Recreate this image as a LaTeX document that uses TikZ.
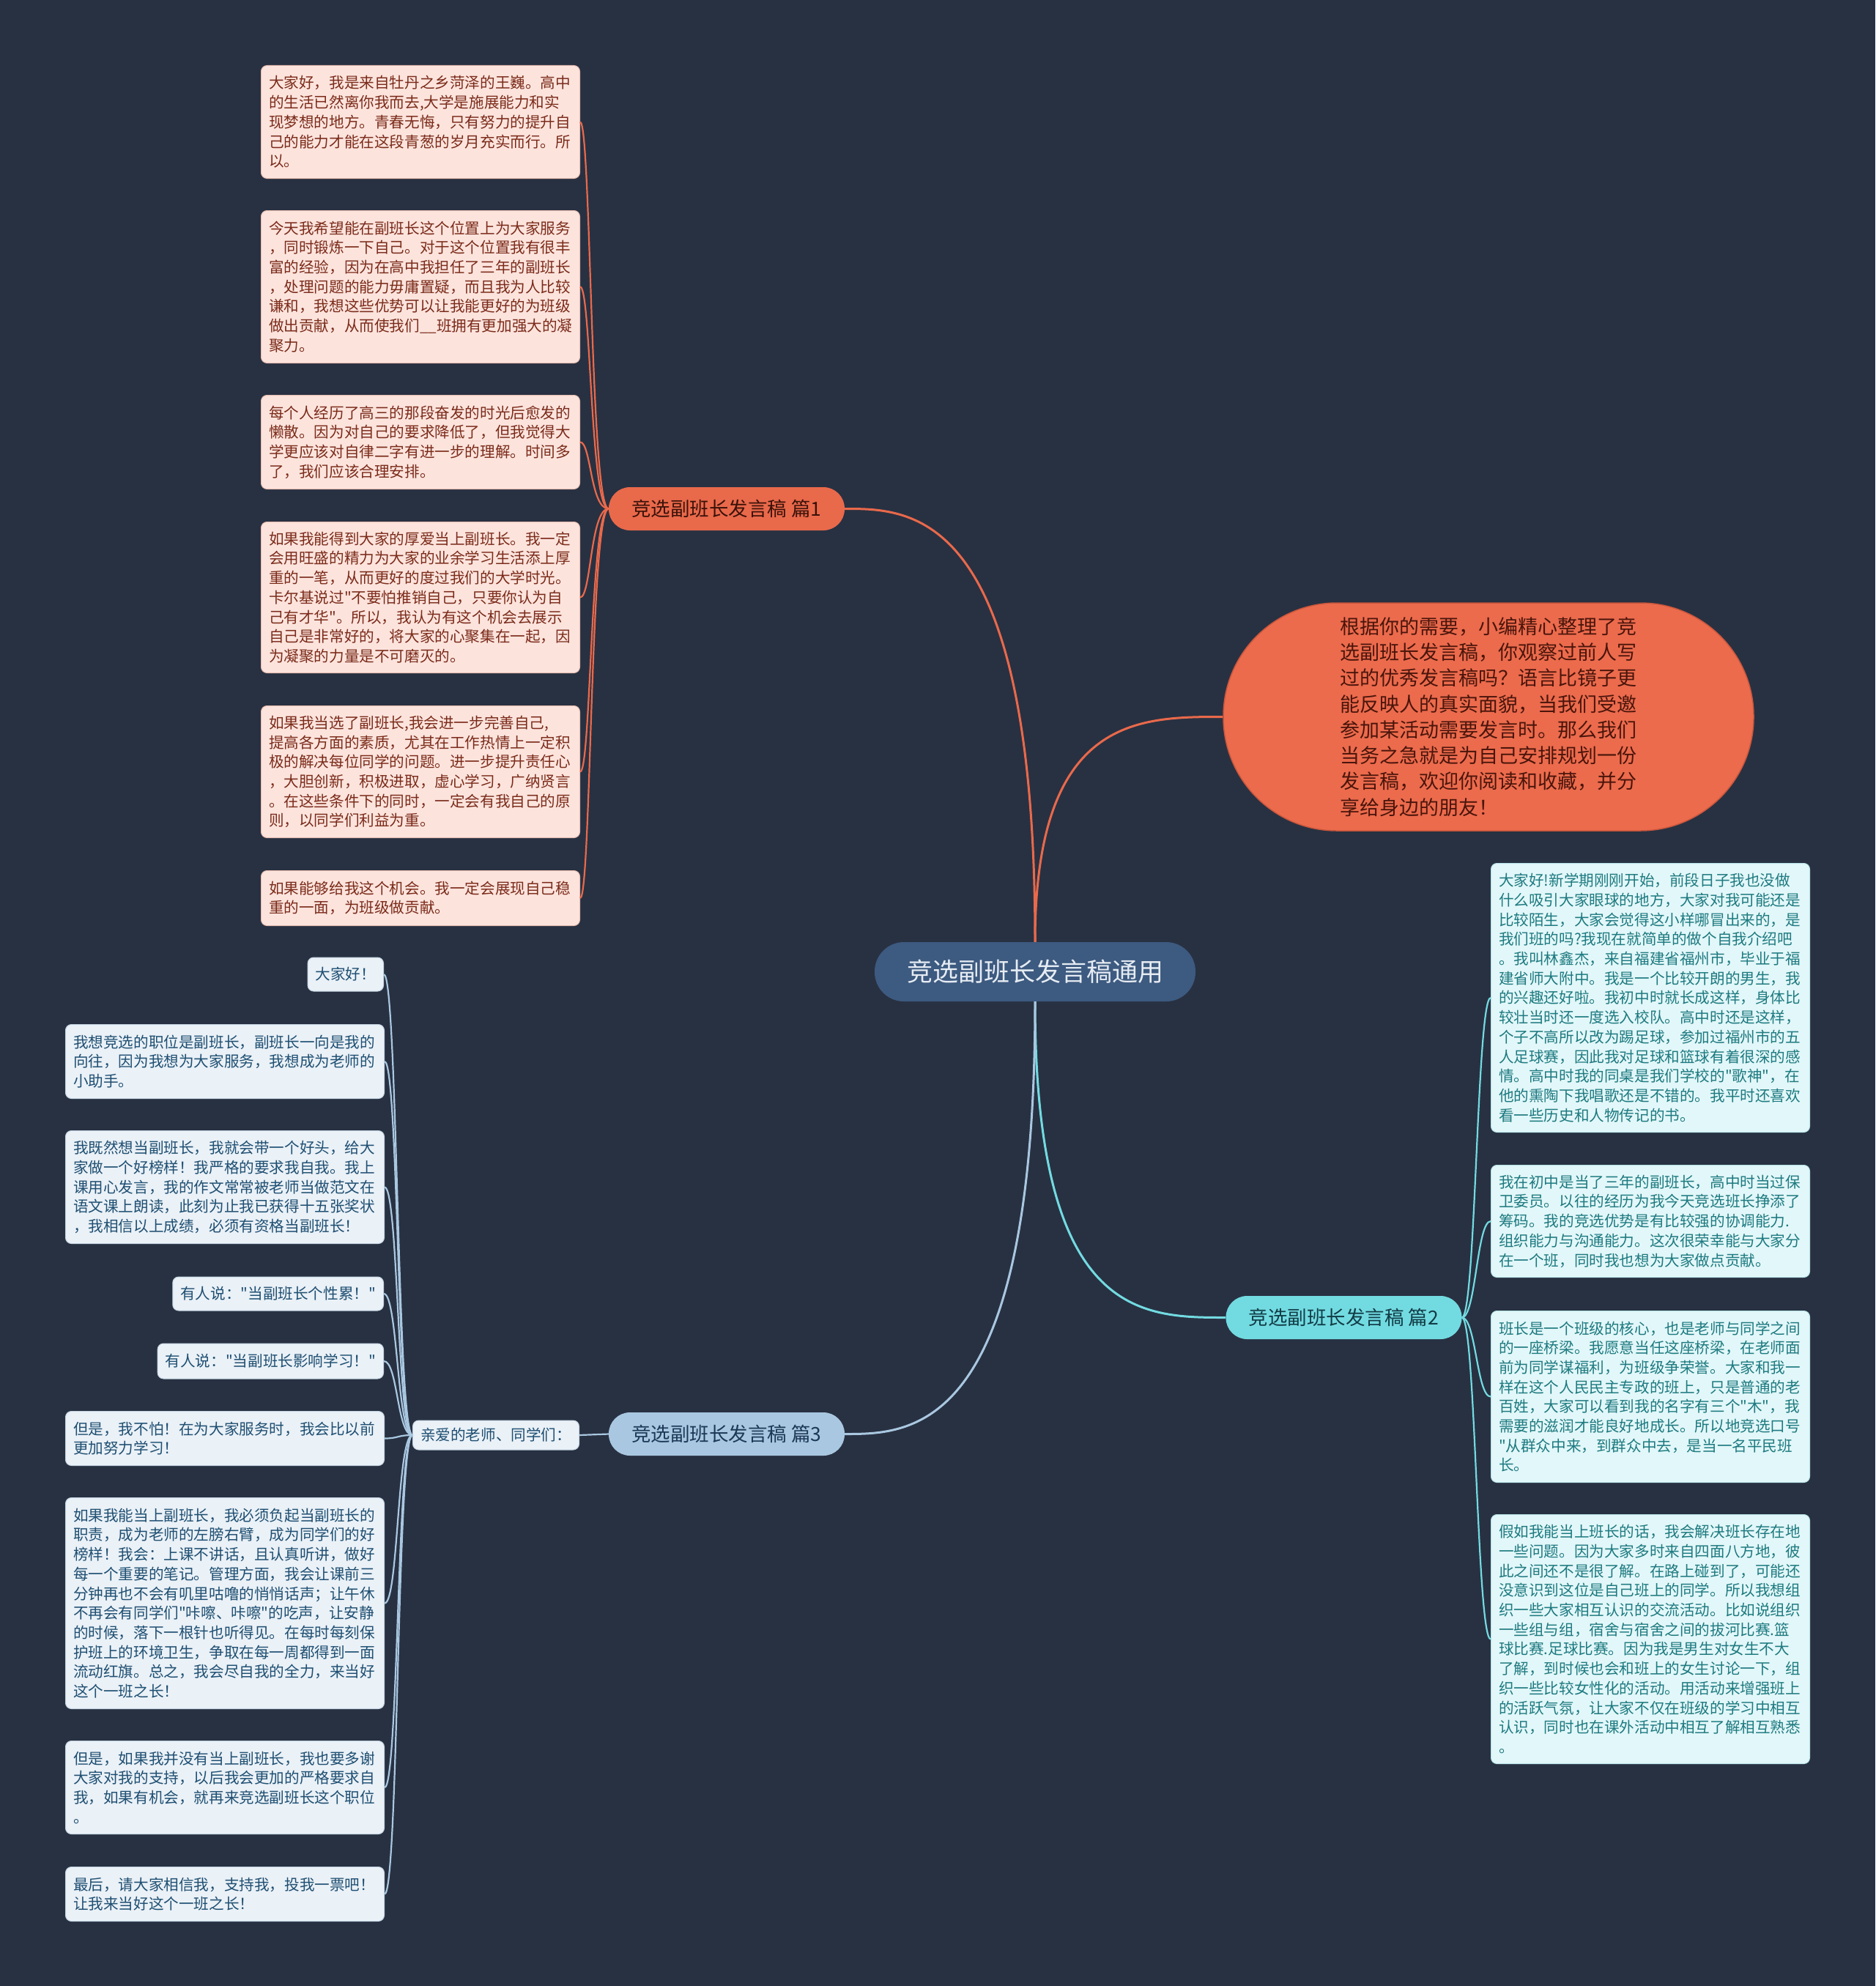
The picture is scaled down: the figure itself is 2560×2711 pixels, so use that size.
\documentclass[tikz,border=0pt]{standalone}
\usepackage{fontspec}
\setmainfont{Noto Sans CJK SC}[Ligatures=TeXOff]
\definecolor{bgc}{HTML}{283142}
\definecolor{rootF}{HTML}{3D5A80}
\definecolor{rootT}{HTML}{E6ECF3}
\definecolor{orgF}{HTML}{E9694B}
\definecolor{orgT}{HTML}{3B1209}
\definecolor{introF}{HTML}{EC6B4D}
\definecolor{introD}{HTML}{C9563C}
\definecolor{introT}{HTML}{4A150B}
\definecolor{pinkF}{HTML}{FCE4DD}
\definecolor{pinkD}{HTML}{E7BDB0}
\definecolor{pinkT}{HTML}{7B2B1A}
\definecolor{cyanF}{HTML}{72DBE1}
\definecolor{cyanT}{HTML}{123C46}
\definecolor{cyanLF}{HTML}{E2F7F9}
\definecolor{cyanLD}{HTML}{B8E3E8}
\definecolor{cyanLT}{HTML}{1D7A80}
\definecolor{blueF}{HTML}{A9C7E0}
\definecolor{blueT}{HTML}{1C3856}
\definecolor{blueLF}{HTML}{EAF1F7}
\definecolor{blueLD}{HTML}{C4D4E2}
\definecolor{blueLT}{HTML}{1F4F72}
\tikzset{
  rootn/.style={fill=rootF, text=rootT, rounded corners=40pt, minimum width=438pt, minimum height=81pt, inner sep=0pt, font=\fontsize{35}{40}\selectfont},
  branchn/.style={rounded corners=29pt, minimum width=322pt, minimum height=59pt, inner sep=0pt, font=\fontsize{26.5}{30}\selectfont},
  introbox/.style={fill=introF, draw=introD, line width=1.5pt, text=introT, rounded corners=155pt, minimum width=724pt, minimum height=311pt, text width=406pt, align=left, inner sep=0pt, font=\fontsize{27}{35.3}\selectfont},
  leafbase/.style={line width=1pt, rounded corners=8pt, align=left, inner xsep=10.5pt, inner ysep=3pt, font=\fontsize{20.6}{26.7}\selectfont},
  leafwide/.style={leafbase, text width=414pt, anchor=north west},
  leafP/.style={fill=pinkF, draw=pinkD, text=pinkT},
  leafC/.style={fill=cyanLF, draw=cyanLD, text=cyanLT},
  leafB/.style={fill=blueLF, draw=blueLD, text=blueLT},
  leafshort/.style={leafbase, leafB, anchor=east},
  conO/.style={draw=orgF, line width=3pt},
  conOs/.style={draw=orgF, line width=2.2pt},
  conC/.style={draw=cyanF, line width=3pt},
  conCs/.style={draw=cyanF, line width=2.2pt},
  conB/.style={draw=blueF, line width=3pt},
  conBs/.style={draw=blueF, line width=2.2pt},
}
\begin{document}
\begin{tikzpicture}[x=1pt,y=-1pt]
\fill[bgc] (0,0) rectangle (2560,2711);
\useasboundingbox (0,0) rectangle (2560,2711);

% central and main branches
\node[rootn] (root) at (1413,1326.5) {竞选副班长发言稿通用};
\node[branchn, fill=orgF, text=orgT] (b1) at (992,694.5) {竞选副班长发言稿 篇1};
\node[branchn, fill=cyanF, text=cyanT] (b2) at (1834.5,1798.5) {竞选副班长发言稿 篇2};
\node[branchn, fill=blueF, text=blueT] (b3) at (992,1957.5) {竞选副班长发言稿 篇3};
\node[introbox] (intro) at (2032,978.5) {根据你的需要，小编精心整理了竞\\选副班长发言稿，你观察过前人写\\过的优秀发言稿吗？语言比镜子更\\能反映人的真实面貌，当我们受邀\\参加某活动需要发言时。那么我们\\当务之急就是为自己安排规划一份\\发言稿，欢迎你阅读和收藏，并分\\享给身边的朋友！};

% branch 1 leaves
\node[leafwide, leafP, minimum height=154pt] (L1) at (356,89) {大家好，我是来自牡丹之乡菏泽的王巍。高中\\的生活已然离你我而去,大学是施展能力和实\\现梦想的地方。青春无悔，只有努力的提升自\\己的能力才能在这段青葱的岁月充实而行。所\\以。};
\node[leafwide, leafP, minimum height=208pt] (L2) at (356,287) {今天我希望能在副班长这个位置上为大家服务\\，同时锻炼一下自己。对于这个位置我有很丰\\富的经验，因为在高中我担任了三年的副班长\\，处理问题的能力毋庸置疑，而且我为人比较\\谦和，我想这些优势可以让我能更好的为班级\\做出贡献，从而使我们\_\_班拥有更加强大的凝\\聚力。};
\node[leafwide, leafP, minimum height=128pt] (L3) at (356,539) {每个人经历了高三的那段奋发的时光后愈发的\\懒散。因为对自己的要求降低了，但我觉得大\\学更应该对自律二字有进一步的理解。时间多\\了，我们应该合理安排。};
\node[leafwide, leafP, minimum height=206pt] (L4) at (356,712) {如果我能得到大家的厚爱当上副班长。我一定\\会用旺盛的精力为大家的业余学习生活添上厚\\重的一笔，从而更好的度过我们的大学时光。\\卡尔基说过"不要怕推销自己，只要你认为自\\己有才华"。所以，我认为有这个机会去展示\\自己是非常好的，将大家的心聚集在一起，因\\为凝聚的力量是不可磨灭的。};
\node[leafwide, leafP, minimum height=180pt] (L5) at (356,963) {如果我当选了副班长,我会进一步完善自己,\\提高各方面的素质，尤其在工作热情上一定积\\极的解决每位同学的问题。进一步提升责任心\\，大胆创新，积极进取，虚心学习，广纳贤言\\。在这些条件下的同时，一定会有我自己的原\\则，以同学们利益为重。};
\node[leafwide, leafP, minimum height=75pt] (L6) at (356,1188) {如果能够给我这个机会。我一定会展现自己稳\\重的一面，为班级做贡献。};

% branch 2 leaves
\node[leafwide, leafC, minimum height=367pt] (R1) at (2035,1178) {大家好!新学期刚刚开始，前段日子我也没做\\什么吸引大家眼球的地方，大家对我可能还是\\比较陌生，大家会觉得这小样哪冒出来的，是\\我们班的吗?我现在就简单的做个自我介绍吧\\。我叫林鑫杰，来自福建省福州市，毕业于福\\建省师大附中。我是一个比较开朗的男生，我\\的兴趣还好啦。我初中时就长成这样，身体比\\较壮当时还一度选入校队。高中时还是这样，\\个子不高所以改为踢足球，参加过福州市的五\\人足球赛，因此我对足球和篮球有着很深的感\\情。高中时我的同桌是我们学校的"歌神"，在\\他的熏陶下我唱歌还是不错的。我平时还喜欢\\看一些历史和人物传记的书。};
\node[leafwide, leafC, minimum height=153pt] (R2) at (2035,1590) {我在初中是当了三年的副班长，高中时当过保\\卫委员。以往的经历为我今天竞选班长挣添了\\筹码。我的竞选优势是有比较强的协调能力.\\组织能力与沟通能力。这次很荣幸能与大家分\\在一个班，同时我也想为大家做点贡献。};
\node[leafwide, leafC, minimum height=234pt] (R3) at (2035,1789) {班长是一个班级的核心，也是老师与同学之间\\的一座桥梁。我愿意当任这座桥梁，在老师面\\前为同学谋福利，为班级争荣誉。大家和我一\\样在这个人民民主专政的班上，只是普通的老\\百姓，大家可以看到我的名字有三个"木"，我\\需要的滋润才能良好地成长。所以地竞选口号\\"从群众中来，到群众中去，是当一名平民班\\长。};
\node[leafwide, leafC, minimum height=340pt] (R4) at (2035,2067) {假如我能当上班长的话，我会解决班长存在地\\一些问题。因为大家多时来自四面八方地，彼\\此之间还不是很了解。在路上碰到了，可能还\\没意识到这位是自己班上的同学。所以我想组\\织一些大家相互认识的交流活动。比如说组织\\一些组与组，宿舍与宿舍之间的拔河比赛.篮\\球比赛.足球比赛。因为我是男生对女生不大\\了解，到时候也会和班上的女生讨论一下，组\\织一些比较女性化的活动。用活动来增强班上\\的活跃气氛，让大家不仅在班级的学习中相互\\认识，同时也在课外活动中相互了解相互熟悉\\。};

% branch 3
\node[leafbase, leafB, minimum width=226pt, minimum height=40pt] (mid) at (677,1959) {亲爱的老师、同学们：};
\node[leafshort, minimum height=46pt] (T1) at (524,1330) {大家好！};
\node[leafwide, leafB, minimum height=101pt] (T2) at (89,1398) {我想竞选的职位是副班长，副班长一向是我的\\向往，因为我想为大家服务，我想成为老师的\\小助手。};
\node[leafwide, leafB, minimum height=154pt] (T3) at (89,1543) {我既然想当副班长，我就会带一个好头，给大\\家做一个好榜样！我严格的要求我自我。我上\\课用心发言，我的作文常常被老师当做范文在\\语文课上朗读，此刻为止我已获得十五张奖状\\，我相信以上成绩，必须有资格当副班长！};
\node[leafshort, minimum height=46pt] (T4) at (524,1766) {有人说："当副班长个性累！"};
\node[leafshort, minimum height=48pt] (T5) at (524,1858) {有人说："当副班长影响学习！"};
\node[leafwide, leafB, minimum height=74pt] (T6) at (89,1926) {但是，我不怕！在为大家服务时，我会比以前\\更加努力学习！};
\node[leafwide, leafB, minimum height=288pt] (T7) at (89,2044) {如果我能当上副班长，我必须负起当副班长的\\职责，成为老师的左膀右臂，成为同学们的好\\榜样！我会：上课不讲话，且认真听讲，做好\\每一个重要的笔记。管理方面，我会让课前三\\分钟再也不会有叽里咕噜的悄悄话声；让午休\\不再会有同学们"咔嚓、咔嚓"的吃声，让安静\\的时候，落下一根针也听得见。在每时每刻保\\护班上的环境卫生，争取在每一周都得到一面\\流动红旗。总之，我会尽自我的全力，来当好\\这个一班之长！};
\node[leafwide, leafB, minimum height=127pt] (T8) at (89,2376) {但是，如果我并没有当上副班长，我也要多谢\\大家对我的支持，以后我会更加的严格要求自\\我，如果有机会，就再来竞选副班长这个职位\\。};
\node[leafwide, leafB, minimum height=74pt] (T9) at (89,2548) {最后，请大家相信我，支持我，投我一票吧！\\让我来当好这个一班之长！};

% main connectors
\draw[conO] (root.north) .. controls +(0,-592) and +(92,0) .. (b1.east);
\draw[conO] (root.north) .. controls +(0,-307.5) and +(-116,0) .. (intro.west);
\draw[conC] (root.south) .. controls +(0,431.5) and +(-116,0) .. (b2.west);
\draw[conB] (root.south) .. controls +(0,590.5) and +(92,0) .. (b3.east);

% branch 1 leaf connectors
\foreach \n in {L1,L2,L3,L4,L5,L6}
  \draw[conOs] (b1.west) .. controls +(-25,0) and +(15,0) .. (\n.east);
% branch 2 leaf connectors
\foreach \n in {R1,R2,R3,R4}
  \draw[conCs] (b2.east) .. controls +(19,0) and +(-19,0) .. (\n.west);
% branch 3 connectors
\draw[conBs] (b3.west) -- (mid.east);
\foreach \n in {T1,T2,T3,T4,T5,T6,T7,T8,T9}
  \draw[conBs] (mid.west) .. controls +(-21,0) and +(19,0) .. (\n.east);
\end{tikzpicture}
\end{document}
